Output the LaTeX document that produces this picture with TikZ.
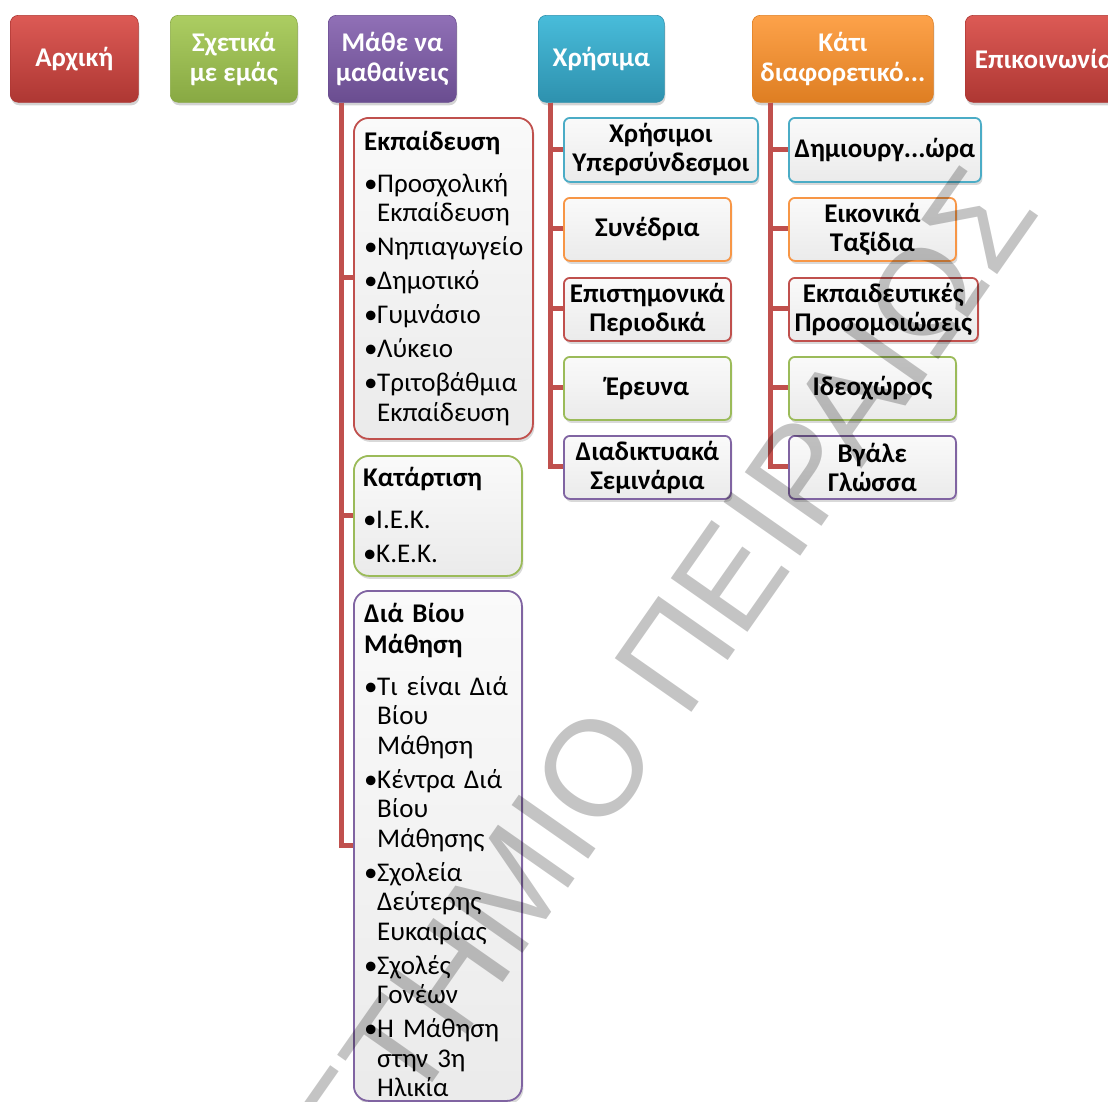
\documentclass[tikz,border=0pt]{standalone}
\usepackage{fontspec}
\setmainfont{Carlito}
\newfontfamily\wmfont{Liberation Sans}
\usetikzlibrary{shadows,calc}
\definecolor{cred}{HTML}{C0504D}
\definecolor{cgreen}{HTML}{9BBB59}
\definecolor{cpurple}{HTML}{8064A2}
\definecolor{ccyan}{HTML}{4BACC6}
\definecolor{corange}{HTML}{F79646}
% top box shades
\definecolor{rtop}{HTML}{DC5A55}\definecolor{rbot}{HTML}{AE3733}
\definecolor{gtop}{HTML}{ACCD62}\definecolor{gbot}{HTML}{88A943}
\definecolor{ptop}{HTML}{9070B6}\definecolor{pbot}{HTML}{6A4D90}
\definecolor{ctop}{HTML}{48BCDA}\definecolor{cbot}{HTML}{2E91AE}
\definecolor{otop}{HTML}{FDA24A}\definecolor{obot}{HTML}{DE7E22}
\newcommand\lbul{\makebox[13pt][l]{•}}
\newcommand\lind{\hspace*{13pt}}
\begin{document}
\begin{tikzpicture}[x=1pt,y=-1pt,
  topbox/.style n args={2}{rounded corners=8pt, top color=#1, bottom color=#2,
    draw=#2, line width=0.6pt, text=white,
    font=\fontsize{27}{30}\selectfont\bfseries, align=center, inner sep=0pt,
    minimum height=87pt, anchor=north west,
    drop shadow={opacity=0.35, shadow xshift=1pt, shadow yshift=-3pt}},
  subbox/.style={draw=#1, line width=1.8pt, rounded corners=6pt,
    top color=white!98!black, bottom color=white!92!black, inner sep=0pt,
    font=\fontsize{27}{29}\selectfont\bfseries, align=center, anchor=north west,
    drop shadow={opacity=0.3, shadow xshift=1.5pt, shadow yshift=-3pt}},
  listbox/.style={subbox=#1, rounded corners=15pt},
  ghost/.style={draw=none, fill=none, inner sep=0pt, anchor=north west},
  listtext/.style={anchor=base west, inner sep=0pt, text width=175pt, align=left,
    font=\fontsize{27}{29.5}\selectfont},
  conn/.style={draw=cred, line width=5pt},
  wm/.style={rotate=55, anchor=base east, inner sep=0pt, text=black, text opacity=0.23,
    font=\wmfont\fontsize{136}{136}\selectfont}
]
\useasboundingbox (0,0) rectangle (1108,1101);
\clip (0,0) rectangle (1108,1101);

% ---------- Top-level boxes ----------
\node[topbox={rtop}{rbot}, minimum width=128pt] (arx) at (10,15) {Αρχική};
\node[topbox={gtop}{gbot}, minimum width=127pt] (sx) at (170,15) {Σχετικά\\με εμάς};
\node[topbox={ptop}{pbot}, minimum width=128pt] (ma) at (328,15) {Μάθε να\\μαθαίνεις};
\node[topbox={ctop}{cbot}, minimum width=126pt] (xr) at (538,15) {Χρήσιμα};
\node[topbox={otop}{obot}, minimum width=181pt] (ka) at (752,15) {Κάτι\\διαφορετικό...};
\node[topbox={rtop}{rbot}, minimum width=158pt] (ep) at (965,15) {Επικοινωνία};

% ---------- Μάθε να μαθαίνεις column ----------
\node[ghost, minimum width=179pt, minimum height=321pt] (eduph) at (353,117) {};
\node[ghost, minimum width=168pt, minimum height=120pt] (katph) at (353,455) {};
\node[ghost, minimum width=168pt, minimum height=510pt] (dbmph) at (353,590) {};

\draw[conn] ([xshift=13pt]ma.south west) |- (eduph.west);
\draw[conn] ([xshift=13pt]ma.south west) |- (katph.west);
\draw[conn] ([xshift=13pt]ma.south west) |- (dbmph.west);

\node[listbox=cred, minimum width=179pt, minimum height=321pt] (edu) at (353,117) {};
\node[listtext] (edut) at (364,150) {\textbf{Εκπαίδευση}\\[12.5pt]
  \lbul Προσχολική\\ \lind Εκπαίδευση\\[4.5pt]
  \lbul Νηπιαγωγείο\\[4.5pt]
  \lbul Δημοτικό\\[4.5pt]
  \lbul Γυμνάσιο\\[4.5pt]
  \lbul Λύκειο\\[4.5pt]
  \lbul Τριτοβάθμια\\ \lind Εκπαίδευση};

\node[listbox=cgreen, minimum width=168pt, minimum height=120pt] (kat) at (353,455) {};
\node[listtext] (katt) at (363,486) {\textbf{Κατάρτιση}\\[12.5pt]
  \lbul Ι.Ε.Κ.\\[4.5pt]
  \lbul Κ.Ε.Κ.};

\node[listbox=cpurple, minimum width=168pt, minimum height=510pt] (dbm) at (353,590) {};
\node[listtext] (dbmt) at (364,622) {\textbf{Διά Βίου}\\[1.5pt] \textbf{Μάθηση}\\[12.5pt]
  \lbul Τι είναι Διά\\ \lind Βίου\\ \lind Μάθηση\\[4.5pt]
  \lbul Κέντρα Διά\\ \lind Βίου\\ \lind Μάθησης\\[4.5pt]
  \lbul Σχολεία\\ \lind Δεύτερης\\ \lind Ευκαιρίας\\[4.5pt]
  \lbul Σχολές\\ \lind Γονέων\\[4.5pt]
  \lbul Η Μάθηση\\ \lind στην 3η\\ \lind Ηλικία};

% ---------- Χρήσιμα column ----------
\node[ghost, minimum width=194pt, minimum height=64pt] (x1ph) at (563,117) {};
\node[ghost, minimum width=167pt, minimum height=63pt] (x2ph) at (563,197) {};
\node[ghost, minimum width=167pt, minimum height=63pt] (x3ph) at (563,277) {};
\node[ghost, minimum width=167pt, minimum height=63pt] (x4ph) at (563,356) {};
\node[ghost, minimum width=167pt, minimum height=63pt] (x5ph) at (563,435) {};
\foreach \n in {x1ph,x2ph,x3ph,x4ph,x5ph}
  \draw[conn] ([xshift=12pt]xr.south west) |- (\n.west);

\node[subbox=ccyan, minimum width=194pt, minimum height=64pt] (x1) at (563,117) {Χρήσιμοι\\Υπερσύνδεσμοι};
\node[subbox=corange, minimum width=167pt, minimum height=63pt] (x2) at (563,197) {Συνέδρια};
\node[subbox=cred, minimum width=167pt, minimum height=63pt] (x3) at (563,277) {Επιστημονικά\\Περιοδικά};
\node[subbox=cgreen, minimum width=167pt, minimum height=63pt] (x4) at (563,356) {Έρευνα};
\node[subbox=cpurple, minimum width=167pt, minimum height=63pt] (x5) at (563,435) {Διαδικτυακά\\Σεμινάρια};

% ---------- Κάτι διαφορετικό column ----------
\node[ghost, minimum width=192pt, minimum height=64pt] (k1ph) at (788,117) {};
\node[ghost, minimum width=167pt, minimum height=63pt] (k2ph) at (788,197) {};
\node[ghost, minimum width=189pt, minimum height=63pt] (k3ph) at (788,277) {};
\node[ghost, minimum width=167pt, minimum height=63pt] (k4ph) at (788,356) {};
\node[ghost, minimum width=167pt, minimum height=63pt] (k5ph) at (788,435) {};
\foreach \n in {k1ph,k2ph,k3ph,k4ph,k5ph}
  \draw[conn] ([xshift=18pt]ka.south west) |- (\n.west);

\node[subbox=ccyan, minimum width=192pt, minimum height=64pt] (k1) at (788,117) {Δημιουργ...ώρα};
\node[subbox=corange, minimum width=167pt, minimum height=63pt] (k2) at (788,197) {Εικονικά\\Ταξίδια};
\node[subbox=cred, minimum width=189pt, minimum height=63pt] (k3) at (788,277) {Εκπαιδευτικές\\Προσομοιώσεις};
\node[subbox=cgreen, minimum width=167pt, minimum height=63pt] (k4) at (788,356) {Ιδεοχώρος};
\node[subbox=cpurple, minimum width=167pt, minimum height=63pt] (k5) at (788,435) {Βγάλε\\Γλώσσα};

% ---------- watermark ----------
\node[wm] (wmark) at (1042,212) {ΠΑΝΕΠΙΣΤΗΜΙΟ ΠΕΙΡΑΙΩΣ};
\end{tikzpicture}
\end{document}
